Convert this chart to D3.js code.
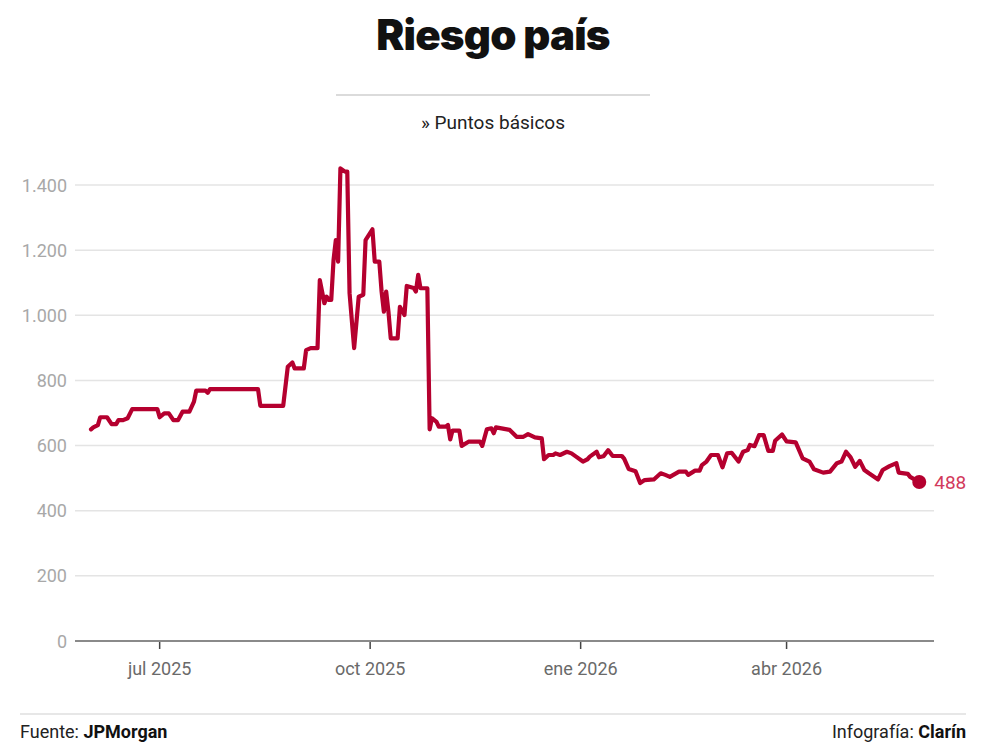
<!DOCTYPE html>
<html>
<head>
<meta charset="utf-8">
<script src="https://cdn.jsdelivr.net/npm/d3@7"></script>
<style>
  html, body { margin: 0; padding: 0; background: #fff; }
  svg { display: block; }
</style>
</head>
<body>
<svg id="chart" width="984" height="753"></svg>
<script>
// ---- Data ----
const dates = [
  "2025-06-01","2025-06-02","2025-06-04","2025-06-05","2025-06-08","2025-06-10","2025-06-12","2025-06-13","2025-06-15","2025-06-17",
  "2025-06-19","2025-06-30","2025-07-01","2025-07-03","2025-07-05","2025-07-07","2025-07-09","2025-07-11","2025-07-14","2025-07-16",
  "2025-07-17","2025-07-21","2025-07-22","2025-07-23","2025-08-13","2025-08-14","2025-08-24","2025-08-26","2025-08-28","2025-08-29",
  "2025-09-02","2025-09-03","2025-09-05","2025-09-08","2025-09-09","2025-09-11","2025-09-12","2025-09-13","2025-09-14","2025-09-15",
  "2025-09-16","2025-09-17","2025-09-18","2025-09-20","2025-09-21","2025-09-22","2025-09-24","2025-09-26","2025-09-28","2025-09-29",
  "2025-10-02","2025-10-03","2025-10-05","2025-10-06","2025-10-07","2025-10-08","2025-10-09","2025-10-10","2025-10-13","2025-10-14",
  "2025-10-16","2025-10-17","2025-10-20","2025-10-21","2025-10-22","2025-10-23","2025-10-26","2025-10-27","2025-10-28","2025-10-30",
  "2025-10-31","2025-11-03","2025-11-04","2025-11-05","2025-11-06","2025-11-09","2025-11-10","2025-11-13","2025-11-18","2025-11-19",
  "2025-11-21","2025-11-23","2025-11-24","2025-11-25","2025-12-01","2025-12-04","2025-12-07","2025-12-09","2025-12-12","2025-12-15",
  "2025-12-16","2025-12-18","2025-12-20","2025-12-21","2025-12-23","2025-12-26","2025-12-28","2025-12-30","2026-01-02","2026-01-04",
  "2026-01-05","2026-01-08","2026-01-09","2026-01-11","2026-01-13","2026-01-15","2026-01-19","2026-01-20","2026-01-22","2026-01-25",
  "2026-01-27","2026-01-29","2026-02-02","2026-02-05","2026-02-07","2026-02-09","2026-02-13","2026-02-16","2026-02-17","2026-02-20",
  "2026-02-22","2026-02-23","2026-02-25","2026-02-27","2026-03-02","2026-03-04","2026-03-06","2026-03-08","2026-03-11","2026-03-13",
  "2026-03-15","2026-03-16","2026-03-18","2026-03-20","2026-03-22","2026-03-24","2026-03-26","2026-03-27","2026-03-30","2026-04-01",
  "2026-04-05","2026-04-08","2026-04-11","2026-04-13","2026-04-17","2026-04-20","2026-04-23","2026-04-25","2026-04-27","2026-04-29",
  "2026-05-01","2026-05-03","2026-05-05","2026-05-07","2026-05-11","2026-05-13","2026-05-16","2026-05-19","2026-05-20","2026-05-24",
  "2026-05-25","2026-05-29"
];
const values = [
  650,656,663,687,687,666,666,678,678,684,
  712,712,687,699,699,678,678,704,704,735,
  769,769,762,773,773,722,722,842,855,837,
  837,893,899,899,1108,1037,1057,1047,1047,1170,
  1231,1165,1451,1441,1441,1068,899,1057,1063,1231,
  1264,1165,1165,1073,1011,1073,1011,929,929,1026,
  1001,1090,1084,1073,1124,1083,1083,650,684,673,
  658,658,663,619,646,646,599,612,612,599,
  650,653,638,656,648,627,627,635,625,622,
  558,571,571,576,571,581,576,566,551,558,
  566,581,564,567,586,568,568,560,528,521,
  485,494,496,515,510,504,520,520,510,523,
  523,540,551,571,571,533,576,578,551,581,
  586,602,598,632,632,584,584,615,634,613,
  610,561,551,527,517,520,546,551,581,564,
  535,553,525,515,496,525,537,546,517,513,
  504,488
];
const yTicks = [0, 200, 400, 600, 800, 1000, 1200, 1400];
const xTickDates = ["2025-07-01", "2025-10-01", "2026-01-01", "2026-04-01"];
const xTickLabels = ["jul 2025", "oct 2025", "ene 2026", "abr 2026"];
const xDomain = ["2025-05-25", "2026-06-04"];
const lastLabel = "488";

// ---- Layout ----
const plotTop = 185, plotBottom = 641;
const parse = d3.timeParse("%Y-%m-%d");
const data = dates.map((d, i) => ({ date: parse(d), value: values[i] }));

const svg = d3.select("#chart");
const font = "Roboto, 'Noto Sans', sans-serif";

const x = d3.scaleTime()
  .domain(xDomain.map(parse))
  .range([75, 933]);
const y = d3.scaleLinear()
  .domain([0, 1400])
  .range([plotBottom, plotTop]);

// Title
svg.append("text")
  .attr("x", 493).attr("y", 50)
  .attr("text-anchor", "middle")
  .attr("font-family", "Inter, 'Noto Sans', sans-serif")
  .attr("font-weight", 900)
  .attr("font-size", 42)
  .attr("letter-spacing", -0.8)
  .attr("fill", "#111")
  .text("Riesgo país");

svg.append("line")
  .attr("x1", 336).attr("x2", 650)
  .attr("y1", 95).attr("y2", 95)
  .attr("stroke", "#cfcfcf").attr("stroke-width", 1.5);

svg.append("text")
  .attr("x", 493).attr("y", 129)
  .attr("text-anchor", "middle")
  .attr("font-family", font)
  .attr("font-size", 19)
  .attr("fill", "#222")
  .text("» Puntos básicos");

// Gridlines + y labels
const yAxis = svg.append("g");
yTicks.forEach(t => {
  yAxis.append("line")
    .attr("x1", 75).attr("x2", 934)
    .attr("y1", y(t)).attr("y2", y(t))
    .attr("stroke", t === 0 ? "#8a8a8a" : "#e4e4e4")
    .attr("stroke-width", t === 0 ? 2 : 1.5);
  yAxis.append("text")
    .attr("x", 67).attr("y", y(t) + 6.5)
    .attr("text-anchor", "end")
    .attr("font-family", font)
    .attr("font-size", 18)
    .attr("fill", "#a8a8a8")
    .text(d3.format(",")(t).replace(/,/g, "."));
});

// X axis ticks
const xAxis = svg.append("g");
xTickDates.forEach((d, i) => {
  const xx = x(parse(d));
  xAxis.append("line")
    .attr("x1", xx).attr("x2", xx)
    .attr("y1", plotBottom + 1).attr("y2", plotBottom + 8)
    .attr("stroke", "#444").attr("stroke-width", 1.5);
  xAxis.append("text")
    .attr("x", xx).attr("y", 675)
    .attr("text-anchor", "middle")
    .attr("font-family", font)
    .attr("font-size", 18)
    .attr("fill", "#6a6a6a")
    .text(xTickLabels[i]);
});

// Line
const line = d3.line()
  .x(d => x(d.date))
  .y(d => y(d.value))
  .curve(d3.curveLinear);

svg.append("path")
  .datum(data)
  .attr("d", line)
  .attr("fill", "none")
  .attr("stroke", "#b5002f")
  .attr("stroke-width", 4.2)
  .attr("stroke-linejoin", "round")
  .attr("stroke-linecap", "round");

const last = data[data.length - 1];
svg.append("circle")
  .attr("cx", x(last.date)).attr("cy", y(last.value))
  .attr("r", 7)
  .attr("fill", "#b5002f");
svg.append("text")
  .attr("x", x(last.date) + 15).attr("y", y(last.value) + 7)
  .attr("font-family", font)
  .attr("font-size", 19)
  .attr("fill", "#d23a5c")
  .text(lastLabel);

// Footer
svg.append("line")
  .attr("x1", 20).attr("x2", 966)
  .attr("y1", 714).attr("y2", 714)
  .attr("stroke", "#d0d0d0").attr("stroke-width", 1.2);

const f1 = svg.append("text")
  .attr("x", 20).attr("y", 738)
  .attr("font-family", font)
  .attr("font-size", 18)
  .attr("fill", "#222");
f1.append("tspan").text("Fuente: ");
f1.append("tspan").attr("font-weight", 700).attr("fill", "#111").text("JPMorgan");

const f2 = svg.append("text")
  .attr("x", 966).attr("y", 738)
  .attr("text-anchor", "end")
  .attr("font-family", font)
  .attr("font-size", 18)
  .attr("fill", "#222");
f2.append("tspan").text("Infografía: ");
f2.append("tspan").attr("font-weight", 700).attr("fill", "#111").text("Clarín");
</script>
</body>
</html>
